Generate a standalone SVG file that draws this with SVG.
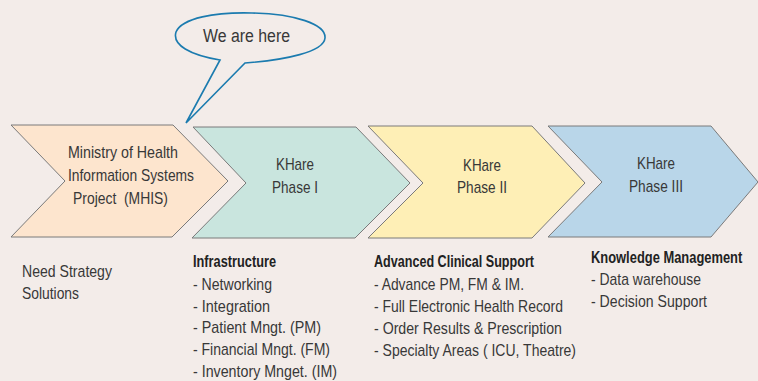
<svg xmlns="http://www.w3.org/2000/svg" width="758" height="381" viewBox="0 0 758 381">
<style>
.bg{fill:#F3ECE9}
.chev{stroke:#7a7a7a;stroke-width:1}
.t{font-family:"Liberation Sans",Arial,sans-serif;font-size:17px;fill:#383838}
.c{text-anchor:middle}
.b{font-weight:bold;fill:#222}
.callout{fill:#F3ECE9;stroke:#1B7BAF;stroke-width:1.6}
</style>
<rect class="bg" x="0" y="0" width="758" height="381"/>
<g id="callout">
<path class="callout" d="M220,60 C190,55 172,45 176,32 C182,18 215,12 252,13 C295,14 326,24 325,38 C324,52 285,60 245,63 L186,123 Z"/>
<text class="t c" x="246.5" y="42" style="font-size:18px" textLength="87" lengthAdjust="spacingAndGlyphs">We are here</text>
</g>
<g id="mhis">
<polygon class="chev" fill="#FDE5CE" points="11,125 173,125 228,181 172,237 11,237 65,181"/>
<text class="t" x="68" y="158" textLength="110" lengthAdjust="spacingAndGlyphs">Ministry of Health</text>
<text class="t" x="68" y="181" textLength="126" lengthAdjust="spacingAndGlyphs">Information Systems</text>
<text class="t" x="73" y="204" xml:space="preserve" textLength="95" lengthAdjust="spacingAndGlyphs">Project  (MHIS)</text>
</g>
<g id="phase1">
<polygon class="chev" fill="#C9E5DE" points="193,127 356,127 410,183 355,238 192,238 246,183"/>
<text class="t c" x="295" y="170" textLength="38" lengthAdjust="spacingAndGlyphs">KHare</text>
<text class="t c" x="295" y="193" textLength="46" lengthAdjust="spacingAndGlyphs">Phase I</text>
</g>
<g id="phase2">
<polygon class="chev" fill="#FEEFB6" points="368,126 532,126 585,183 532,238 368,238 423,183"/>
<text class="t c" x="482" y="171" textLength="38" lengthAdjust="spacingAndGlyphs">KHare</text>
<text class="t c" x="482" y="193" textLength="50" lengthAdjust="spacingAndGlyphs">Phase II</text>
</g>
<g id="phase3">
<polygon class="chev" fill="#B9D6E9" points="548,126 711,126 758,182 711,237 548,237 602,182"/>
<text class="t c" x="656" y="169" textLength="38" lengthAdjust="spacingAndGlyphs">KHare</text>
<text class="t c" x="656" y="192" textLength="54" lengthAdjust="spacingAndGlyphs">Phase III</text>
</g>
<g id="need">
<text class="t" x="22" y="277" textLength="90" lengthAdjust="spacingAndGlyphs">Need Strategy</text>
<text class="t" x="22" y="299" textLength="57" lengthAdjust="spacingAndGlyphs">Solutions</text>
</g>
<g id="infra">
<text class="t b" x="193" y="267" textLength="83" lengthAdjust="spacingAndGlyphs">Infrastructure</text>
<text class="t" x="193" y="290" textLength="79" lengthAdjust="spacingAndGlyphs">- Networking</text>
<text class="t" x="193" y="312" textLength="77" lengthAdjust="spacingAndGlyphs">- Integration</text>
<text class="t" x="193" y="333" textLength="128" lengthAdjust="spacingAndGlyphs">- Patient Mngt. (PM)</text>
<text class="t" x="193" y="355" textLength="137" lengthAdjust="spacingAndGlyphs">- Financial Mngt. (FM)</text>
<text class="t" x="193" y="377" textLength="144" lengthAdjust="spacingAndGlyphs">- Inventory Mnget. (IM)</text>
</g>
<g id="clinical">
<text class="t b" x="374" y="267" textLength="160" lengthAdjust="spacingAndGlyphs">Advanced Clinical Support</text>
<text class="t" x="374" y="290" textLength="150" lengthAdjust="spacingAndGlyphs">- Advance PM, FM &amp; IM.</text>
<text class="t" x="374" y="312" textLength="189" lengthAdjust="spacingAndGlyphs">- Full Electronic Health Record</text>
<text class="t" x="374" y="334" textLength="188" lengthAdjust="spacingAndGlyphs">- Order Results &amp; Prescription</text>
<text class="t" x="374" y="356" textLength="202" lengthAdjust="spacingAndGlyphs">- Specialty Areas ( ICU, Theatre)</text>
</g>
<g id="knowledge">
<text class="t b" transform="translate(591,263) scale(0.76,1)" x="0" y="0">Knowledge Management</text>
<text class="t" x="591" y="285" textLength="110" lengthAdjust="spacingAndGlyphs">- Data warehouse</text>
<text class="t" x="591" y="307" textLength="116" lengthAdjust="spacingAndGlyphs">- Decision Support</text>
</g>
<g id="connectors"></g>
</svg>
